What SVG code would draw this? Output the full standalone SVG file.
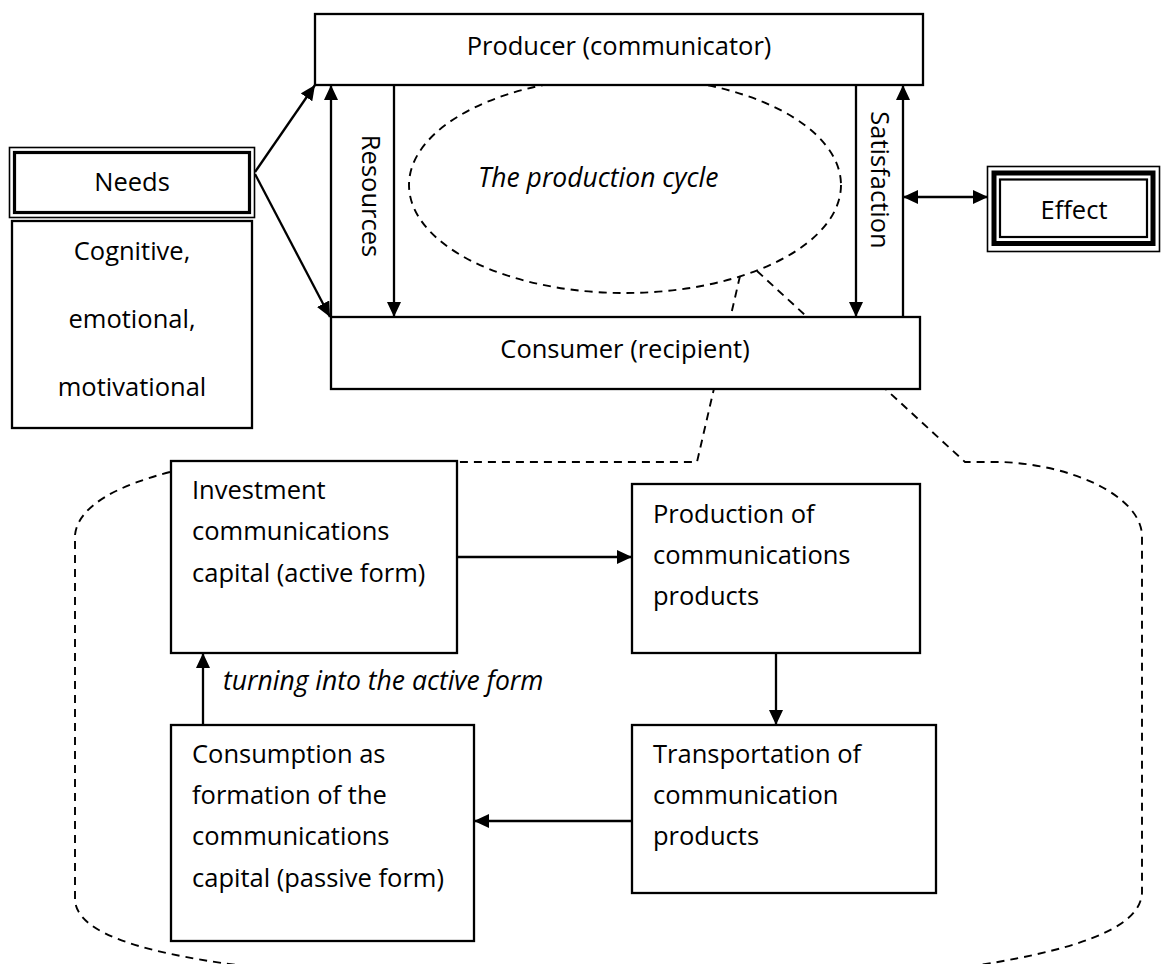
<svg xmlns="http://www.w3.org/2000/svg" width="1161" height="964" viewBox="0 0 1161 964">
<style>
  text { font-family: "Open Sans", "Liberation Sans", sans-serif; font-size: 25.5px; fill: #000; }
  .it { font-style: italic; }
  .big { font-size: 26.5px; }
  .mid { text-anchor: middle; }
  .box { fill: #fff; stroke: #000; stroke-width: 2.3; }
  .dash { fill: none; stroke: #000; stroke-width: 1.9; stroke-dasharray: 8 6; }
  .conn { fill: none; stroke: #000; stroke-width: 2.3; }
</style>
<defs>
  <marker id="ah" viewBox="0 0 15 14" refX="15" refY="7" markerWidth="15" markerHeight="14" markerUnits="userSpaceOnUse" orient="auto-start-reverse">
    <path d="M0,0 L15,7 L0,14 z" fill="#000"/>
  </marker>
</defs>
<rect width="1161" height="964" fill="#fff"/>

<g id="cycle-outline">
  <ellipse class="dash" cx="625" cy="185" rx="216" ry="108"/>
  <path class="dash" d="M740,276 L697,462 L457,462"/>
  <path class="dash" d="M757,271 L965,462 L1000,462 C1070,464 1140,495 1142,535 L1142,893 C1140,930 1070,952 960,968"/>
  <path class="dash" d="M170,472 C120,485 78,505 75,535 L75,900 C77,935 150,955 260,968"/>
</g>

<g id="connectors">
  <line class="conn" x1="255" y1="172" x2="315" y2="85" marker-end="url(#ah)"/>
  <line class="conn" x1="255" y1="174" x2="330" y2="317" marker-end="url(#ah)"/>
  <line class="conn" x1="331" y1="317" x2="331" y2="85" marker-end="url(#ah)"/>
  <line class="conn" x1="394" y1="85" x2="394" y2="317" marker-end="url(#ah)"/>
  <line class="conn" x1="856" y1="85" x2="856" y2="317" marker-end="url(#ah)"/>
  <line class="conn" x1="903" y1="317" x2="903" y2="85" marker-end="url(#ah)"/>
  <line class="conn" x1="903" y1="197" x2="988" y2="197" marker-start="url(#ah)" marker-end="url(#ah)"/>
  <line class="conn" x1="457" y1="557" x2="632" y2="557" marker-end="url(#ah)"/>
  <line class="conn" x1="776" y1="653" x2="776" y2="725" marker-end="url(#ah)"/>
  <line class="conn" x1="632" y1="821" x2="474" y2="821" marker-end="url(#ah)"/>
  <line class="conn" x1="203" y1="725" x2="203" y2="653" marker-end="url(#ah)"/>
  <text class="it big" x="223" y="690">turning into the active form</text>
  <text transform="translate(362,196) rotate(90)" class="mid">Resources</text>
  <text transform="translate(871,180) rotate(90)" class="mid">Satisfaction</text>
  <text class="it big" x="478" y="187">The production cycle</text>
</g>

<g id="producer">
  <rect class="box" x="315" y="14" width="608" height="71"/>
  <text class="mid" x="619" y="55">Producer (communicator)</text>
</g>

<g id="consumer">
  <rect class="box" x="331" y="317" width="589" height="72"/>
  <text class="mid" x="625" y="358">Consumer (recipient)</text>
</g>

<g id="needs">
  <rect x="9.5" y="147.5" width="245" height="70" fill="#fff" stroke="#000" stroke-width="1.6"/>
  <rect x="14.5" y="152.5" width="235" height="60" fill="none" stroke="#000" stroke-width="3.2"/>
  <text class="mid" x="132" y="191">Needs</text>
</g>

<g id="needs-types">
  <rect class="box" x="12" y="221" width="240" height="207"/>
  <text class="mid" x="132" y="260">Cognitive,</text>
  <text class="mid" x="132" y="328">emotional,</text>
  <text class="mid" x="132" y="396">motivational</text>
</g>

<g id="effect">
  <rect x="987.5" y="166.5" width="172" height="85" fill="#fff" stroke="#000" stroke-width="1.6"/>
  <rect x="994" y="173" width="159" height="70.5" fill="none" stroke="#000" stroke-width="5"/>
  <rect x="1000" y="179.5" width="147" height="57.5" fill="none" stroke="#000" stroke-width="2.2"/>
  <text class="mid" x="1074" y="219">Effect</text>
</g>

<g id="investment">
  <rect class="box" x="171" y="461" width="286" height="192"/>
  <text x="192" y="499">Investment<tspan x="192" dy="41">communications</tspan><tspan x="192" dy="41.5">capital (active form)</tspan></text>
</g>

<g id="production">
  <rect class="box" x="632" y="484" width="288" height="169"/>
  <text x="653" y="523">Production of<tspan x="653" dy="41">communications</tspan><tspan x="653" dy="41">products</tspan></text>
</g>

<g id="transportation">
  <rect class="box" x="632" y="725" width="304" height="168"/>
  <text x="653" y="763">Transportation of<tspan x="653" dy="40.5">communication</tspan><tspan x="653" dy="41.5">products</tspan></text>
</g>

<g id="consumption">
  <rect class="box" x="171" y="725" width="303" height="216"/>
  <text x="192" y="763">Consumption as<tspan x="192" dy="41">formation of the</tspan><tspan x="192" dy="41">communications</tspan><tspan x="192" dy="41.5">capital (passive form)</tspan></text>
</g>
</svg>
